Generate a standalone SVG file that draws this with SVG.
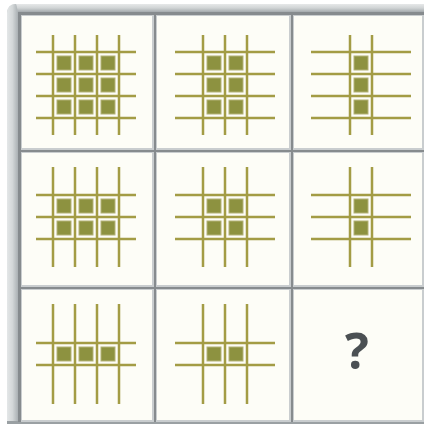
<svg xmlns="http://www.w3.org/2000/svg" width="427" height="426" viewBox="0 0 427 426">
<style>
.ln{stroke:#a39c45;stroke-width:2.5;fill:none}
.sq{fill:#8d9240;stroke:#b3b277;stroke-width:1}
.slot{fill:#868b8e}
.hi{fill:#c9cdcf}
.cell{fill:#fdfdf7}
.q{font-family:"Open Sans","DejaVu Sans",sans-serif;font-weight:bold;font-size:50px;fill:#4b5053}
</style>
<defs>
<linearGradient id="fl" x1="0" y1="0" x2="1" y2="0">
<stop offset="0" stop-color="#e4e7e8"/><stop offset="0.5" stop-color="#d3d7d8"/><stop offset="1" stop-color="#aab0b3"/>
</linearGradient>
<linearGradient id="ft" x1="0" y1="0" x2="0" y2="1">
<stop offset="0" stop-color="#e6e8e9"/><stop offset="0.5" stop-color="#d0d4d5"/><stop offset="1" stop-color="#a4aaad"/>
</linearGradient>
<rect id="s" x="-7" y="-7" width="14" height="14" class="sq"/>
</defs>
<g id="frame">
<rect x="7" y="4" width="417" height="420" rx="9" fill="#c4c8ca"/>
<path d="M16,4 H424 V12 H18 Z" fill="url(#ft)"/>
<path d="M7,13 Q7,4 16,4 L18,12 V424 H7 Z" fill="url(#fl)"/>
<rect x="7" y="421" width="417" height="3" fill="#9aa0a3"/>
</g>
<g id="slots">
<rect class="slot" x="18" y="12" width="136" height="138"/>
<rect class="slot" x="153" y="12" width="138" height="138"/>
<rect class="slot" x="290" y="12" width="134" height="138"/>
<rect class="slot" x="18" y="149" width="136" height="138"/>
<rect class="slot" x="153" y="149" width="138" height="138"/>
<rect class="slot" x="290" y="149" width="134" height="138"/>
<rect class="slot" x="18" y="286" width="136" height="136"/>
<rect class="slot" x="153" y="286" width="138" height="136"/>
<rect class="slot" x="290" y="286" width="134" height="136"/>
</g>
<g id="cell-r1c1">
<rect class="hi" x="21" y="15" width="133" height="135"/>
<rect class="cell" x="22" y="16" width="130" height="132"/>
<path class="ln" d="M53,35V135M75,35V135M97,35V135M119,35V135M36,52H136M36,74H136M36,96H136M36,118H136"/>
<use href="#s" x="64" y="63"/><use href="#s" x="86" y="63"/><use href="#s" x="108" y="63"/>
<use href="#s" x="64" y="85"/><use href="#s" x="86" y="85"/><use href="#s" x="108" y="85"/>
<use href="#s" x="64" y="107"/><use href="#s" x="86" y="107"/><use href="#s" x="108" y="107"/>
</g>
<g id="cell-r1c2">
<rect class="hi" x="156" y="15" width="135" height="135"/>
<rect class="cell" x="157" y="16" width="132" height="132"/>
<path class="ln" d="M203,35V135M225,35V135M247,35V135M175,52H275M175,74H275M175,96H275M175,118H275"/>
<use href="#s" x="214" y="63"/><use href="#s" x="236" y="63"/>
<use href="#s" x="214" y="85"/><use href="#s" x="236" y="85"/>
<use href="#s" x="214" y="107"/><use href="#s" x="236" y="107"/>
</g>
<g id="cell-r1c3">
<rect class="hi" x="293" y="15" width="131" height="135"/>
<rect class="cell" x="294" y="16" width="128" height="132"/>
<path class="ln" d="M350,35V135M372,35V135M311,52H411M311,74H411M311,96H411M311,118H411"/>
<use href="#s" x="361" y="63"/><use href="#s" x="361" y="85"/><use href="#s" x="361" y="107"/>
</g>
<g id="cell-r2c1">
<rect class="hi" x="21" y="152" width="133" height="135"/>
<rect class="cell" x="22" y="153" width="130" height="132"/>
<path class="ln" d="M53,167V267M75,167V267M97,167V267M119,167V267M36,195H136M36,217H136M36,239H136"/>
<use href="#s" x="64" y="206"/><use href="#s" x="86" y="206"/><use href="#s" x="108" y="206"/>
<use href="#s" x="64" y="228"/><use href="#s" x="86" y="228"/><use href="#s" x="108" y="228"/>
</g>
<g id="cell-r2c2">
<rect class="hi" x="156" y="152" width="135" height="135"/>
<rect class="cell" x="157" y="153" width="132" height="132"/>
<path class="ln" d="M203,167V267M225,167V267M247,167V267M175,195H275M175,217H275M175,239H275"/>
<use href="#s" x="214" y="206"/><use href="#s" x="236" y="206"/>
<use href="#s" x="214" y="228"/><use href="#s" x="236" y="228"/>
</g>
<g id="cell-r2c3">
<rect class="hi" x="293" y="152" width="131" height="135"/>
<rect class="cell" x="294" y="153" width="128" height="132"/>
<path class="ln" d="M350,167V267M372,167V267M311,195H411M311,217H411M311,239H411"/>
<use href="#s" x="361" y="206"/><use href="#s" x="361" y="228"/>
</g>
<g id="cell-r3c1">
<rect class="hi" x="21" y="289" width="133" height="133"/>
<rect class="cell" x="22" y="290" width="130" height="130"/>
<path class="ln" d="M53,304V404M75,304V404M97,304V404M119,304V404M36,343H136M36,365H136"/>
<use href="#s" x="64" y="354"/><use href="#s" x="86" y="354"/><use href="#s" x="108" y="354"/>
</g>
<g id="cell-r3c2">
<rect class="hi" x="156" y="289" width="135" height="133"/>
<rect class="cell" x="157" y="290" width="132" height="130"/>
<path class="ln" d="M203,304V404M225,304V404M247,304V404M175,343H275M175,365H275"/>
<use href="#s" x="214" y="354"/><use href="#s" x="236" y="354"/>
</g>
<g id="cell-r3c3">
<rect class="hi" x="293" y="289" width="131" height="133"/>
<rect class="cell" x="294" y="290" width="128" height="130"/>
<text class="q" x="357" y="369" text-anchor="middle">?</text>
</g>
<g id="connectors"/>
</svg>
